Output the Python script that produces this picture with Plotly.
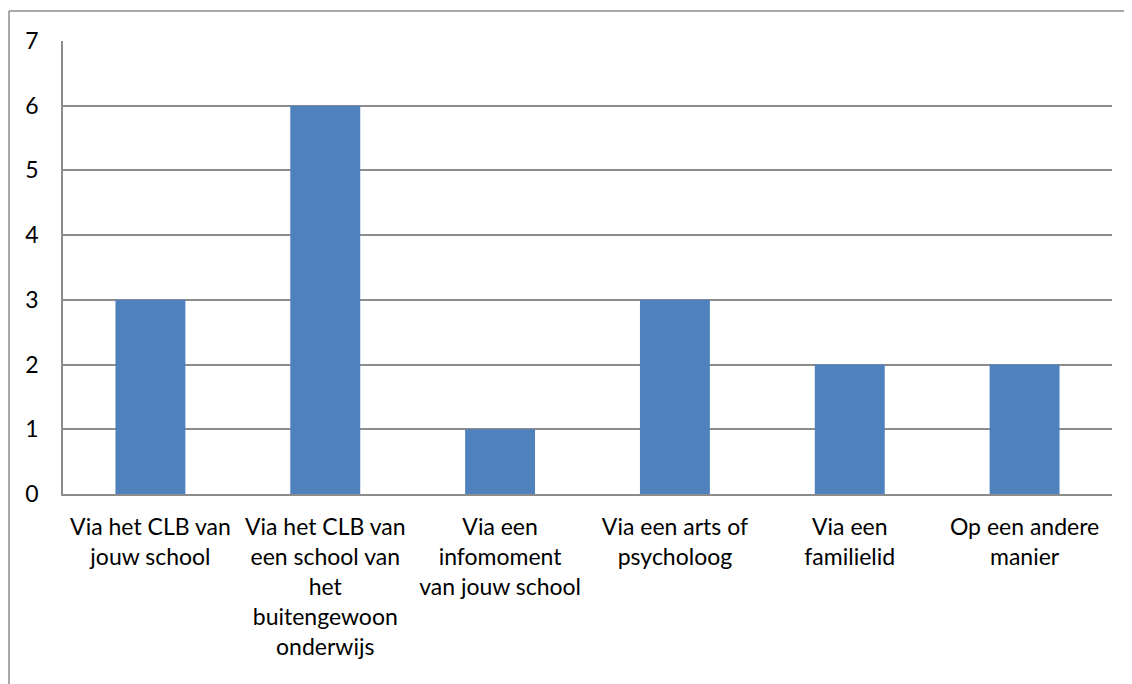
import plotly.graph_objects as go

categories = [
    "Via het CLB van<br>jouw school",
    "Via het CLB van<br>een school van<br>het<br>buitengewoon<br>onderwijs",
    "Via een<br>infomoment<br>van jouw school",
    "Via een arts of<br>psycholoog",
    "Via een<br>familielid",
    "Op een andere<br>manier",
]
values = [3, 6, 1, 3, 2, 2]
y_ticks = [0, 1, 2, 3, 4, 5, 6, 7]

# page body has an 8px margin; figure sits at (8, 8)
W, H = 1124, 676
L, R, T, B = 55, 20, 33, 190
pw, ph = W - L - R, H - T - B

fig = go.Figure(go.Bar(x=categories, y=values, marker_color="#4F81BD",
                       marker_line_width=0, width=0.4))

fig.update_layout(
    width=W, height=H,
    margin=dict(l=L, r=R, t=T, b=B),
    plot_bgcolor="white", paper_bgcolor="white",
    font=dict(family="Lato, Open Sans, sans-serif", size=23, color="black"),
    showlegend=False,
)
fig.update_yaxes(range=[0, 7], tickvals=y_ticks, showgrid=True, gridcolor="#8c8c8c",
                 gridwidth=1.5, showline=True, linecolor="#8c8c8c", linewidth=1.5,
                 zeroline=False, ticklabelstandoff=18)
fig.update_xaxes(showgrid=False, showline=True, linecolor="#8c8c8c", linewidth=1.5,
                 ticklabelstandoff=12, tickangle=0)

x0 = -(L - 1) / pw
y_top = 1 + (T - 3) / ph
x_right = (W - L) / pw
y_bot = -(B) / ph
fig.add_shape(type="line", xref="paper", yref="paper", x0=x0, x1=x0, y0=y_bot, y1=y_top,
              line=dict(color="#8c8c8c", width=1.5))
fig.add_shape(type="line", xref="paper", yref="paper", x0=x0, x1=x_right, y0=y_top, y1=y_top,
              line=dict(color="#8c8c8c", width=1.5))

fig.write_html("out.html")
